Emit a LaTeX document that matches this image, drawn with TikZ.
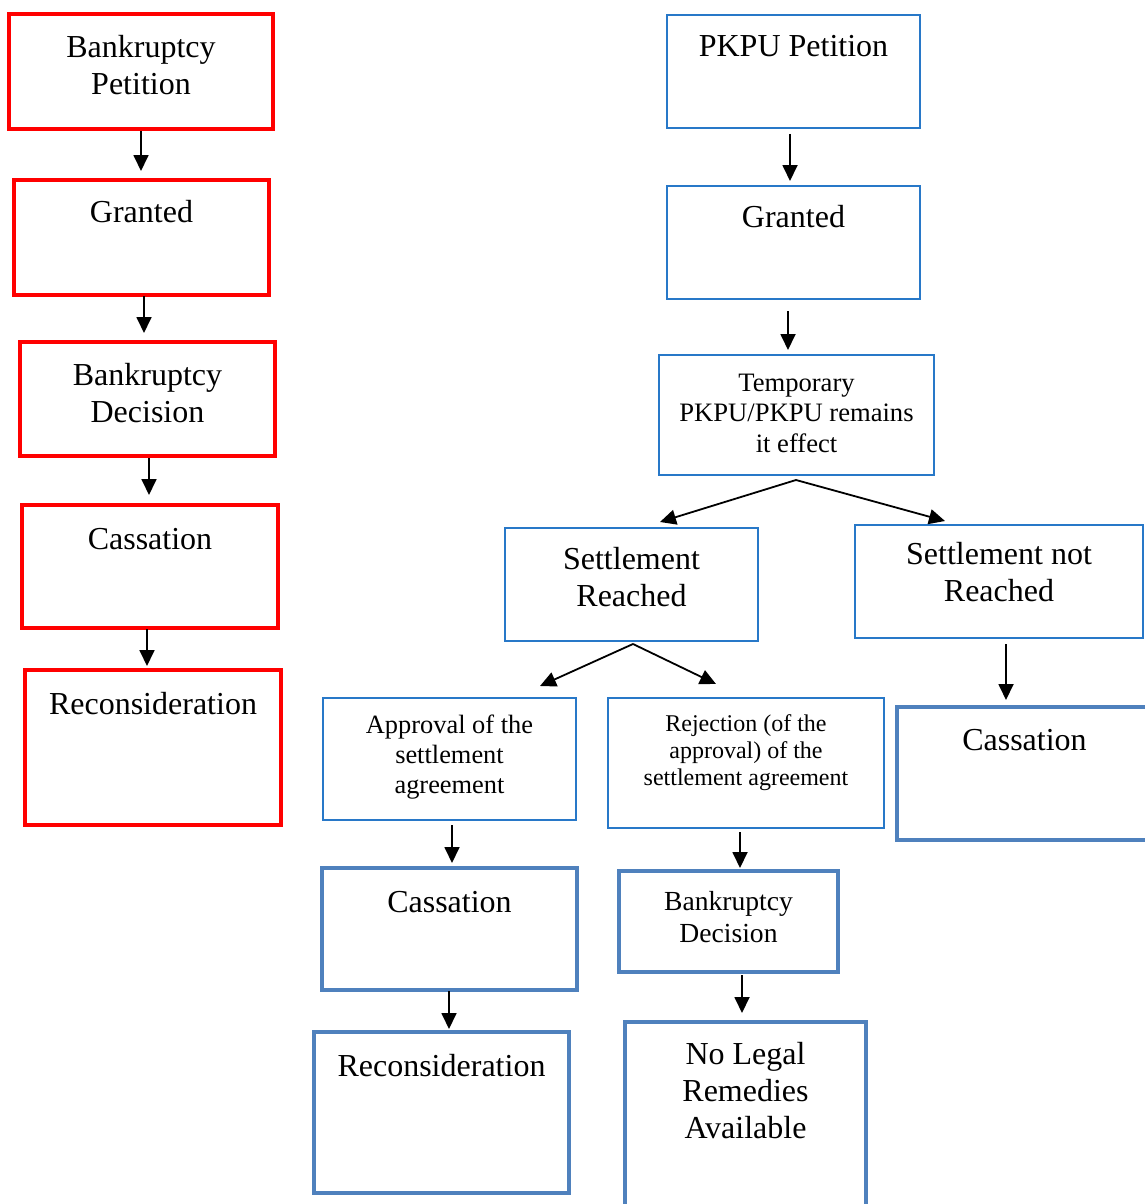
\documentclass[tikz,border=0pt]{standalone}
\usepackage{fontspec}
\setmainfont{Liberation Serif}
\usetikzlibrary{arrows.meta,calc}
\definecolor{redline}{RGB}{255,0,0}
\definecolor{thinblue}{RGB}{40,120,200}
\definecolor{thickblue}{RGB}{79,129,189}
\begin{document}
\begin{tikzpicture}[x=1pt,y=-1pt,
  boxbase/.style={anchor=north west,inner sep=0pt,outer sep=0pt,rectangle},
  redbox/.style={boxbase,draw=redline,line width=4pt},
  thinbox/.style={boxbase,draw=thinblue,line width=1.1pt},
  thickbox/.style={boxbase,draw=thickblue,line width=4.5pt},
  lbl/.style={anchor=north,align=center,inner sep=0pt,text=black},
  fbig/.style={font=\fontsize{32}{37}\selectfont},
  arr/.style={line width=1.8pt,-{Triangle[length=16pt,width=15pt]}}
]
\useasboundingbox (0,0) rectangle (1145,1204);
\clip (0,0) rectangle (1145,1204);

% ---------- left column (red) ----------
\node[redbox,minimum width=264pt,minimum height=115pt,
  label={[lbl,fbig,yshift=-17pt]north:{\strut Bankruptcy\\Petition}}] (rb1) at (9,14) {};
\node[redbox,minimum width=255pt,minimum height=115pt,
  label={[lbl,fbig,yshift=-16pt]north:{\strut Granted}}] (rb2) at (14,180) {};
\node[redbox,minimum width=255pt,minimum height=114pt,
  label={[lbl,fbig,yshift=-17pt]north:{\strut Bankruptcy\\Decision}}] (rb3) at (20,342) {};
\node[redbox,minimum width=256pt,minimum height=123pt,
  label={[lbl,fbig,yshift=-18pt]north:{\strut Cassation}}] (rb4) at (22,505) {};
\node[redbox,minimum width=256pt,minimum height=155pt,
  label={[lbl,fbig,yshift=-18pt]north:{\strut Reconsideration}}] (rb5) at (25,670) {};

\draw[arr] ($(rb1.south)+(0,2)$) -- ($(rb2.north)+(-0.5,-9)$);
\draw[arr] ($(rb2.south)+(2.5,1)$) -- ($(rb3.north)+(-3.5,-9)$);
\draw[arr] ($(rb3.south)+(1.5,2)$) -- ($(rb4.north)+(-1,-10)$);
\draw[arr] ($(rb4.south)+(-3,1)$) -- ($(rb5.north)+(-6,-4)$);

% ---------- right part (blue) ----------
\node[thinbox,minimum width=253pt,minimum height=113pt,
  label={[lbl,fbig,yshift=-15pt]north:{\strut PKPU Petition}}] (p1) at (667,15) {};
\node[thinbox,minimum width=253pt,minimum height=113pt,
  label={[lbl,fbig,yshift=-15pt]north:{\strut Granted}}] (p2) at (667,186) {};
\node[thinbox,minimum width=275pt,minimum height=120pt,
  label={[lbl,font=\fontsize{26.6}{30.5}\selectfont,yshift=-14.6pt]north:{\strut Temporary\\PKPU/PKPU remains\\it effect}}] (tmp) at (659,355) {};
\node[thinbox,minimum width=253pt,minimum height=113pt,
  label={[lbl,fbig,yshift=-15.5pt]north:{\strut Settlement\\Reached}}] (sr) at (505,528) {};
\node[thinbox,minimum width=288pt,minimum height=113pt,
  label={[lbl,font=\fontsize{32}{37.5}\selectfont,yshift=-12.7pt]north:{\strut Settlement not\\Reached}}] (snr) at (855,525) {};
\node[thinbox,minimum width=253pt,minimum height=122pt,
  label={[lbl,font=\fontsize{26.4}{30}\selectfont,yshift=-14pt]north:{\strut Approval of the\\settlement\\agreement}}] (ap) at (323,698) {};
\node[thinbox,minimum width=276pt,minimum height=130pt,
  label={[lbl,font=\fontsize{24}{27}\selectfont,yshift=-14pt]north:{\strut Rejection (of the\\approval) of the\\settlement agreement}}] (rj) at (608,698) {};
\node[thickbox,minimum width=255pt,minimum height=133pt,
  label={[lbl,fbig,yshift=-17pt]north:{\strut Cassation}}] (cr) at (897,707) {};
\node[thickbox,minimum width=255pt,minimum height=122pt,
  label={[lbl,fbig,yshift=-18pt]north:{\strut Cassation}}] (cm) at (322,868) {};
\node[thickbox,minimum width=219pt,minimum height=101pt,
  label={[lbl,font=\fontsize{27.6}{32}\selectfont,yshift=-16.6pt]north:{\strut Bankruptcy\\Decision}}] (bd) at (619,871) {};
\node[thickbox,minimum width=255pt,minimum height=161pt,
  label={[lbl,fbig,yshift=-18pt]north:{\strut Reconsideration}}] (rec) at (314,1032) {};
\node[thickbox,minimum width=241pt,minimum height=200pt,
  label={[lbl,fbig,yshift=-16pt]north:{\strut No Legal\\Remedies\\Available}}] (nl) at (625,1022) {};

\draw[arr] ($(p1.south)+(-3.5,6)$) -- ($(p2.north)+(-3.5,-5)$);
\draw[arr] ($(p2.south)+(-5.5,12)$) -- ($(tmp.north)+(-8.5,-5)$);
\draw[arr] ($(tmp.south)+(-0.5,5)$) -- ($(sr.north)+(28.5,-6)$);
\draw[arr] ($(tmp.south)+(-0.5,5)$) -- ($(snr.north)+(-54,-4)$);
\draw[arr] ($(sr.south)+(1.5,3)$) -- ($(ap.north)+(90.5,-12)$);
\draw[arr] ($(sr.south)+(1.5,3)$) -- ($(rj.north)+(-30,-14)$);
\draw[arr] ($(ap.south)+(2.5,5)$) -- ($(cm.north)+(2.5,-5)$);
\draw[arr] ($(rj.south)+(-6,4)$) -- ($(bd.north)+(11.5,-3)$);
\draw[arr] ($(snr.south)+(7,6)$) -- ($(cr.north)+(-18.5,-7)$);
\draw[arr] ($(cm.south)+(-0.5,1)$) -- ($(rec.north)+(7.5,-3)$);
\draw[arr] ($(bd.south)+(13.5,3)$) -- ($(nl.north)+(-3.5,-9)$);
\end{tikzpicture}
\end{document}
